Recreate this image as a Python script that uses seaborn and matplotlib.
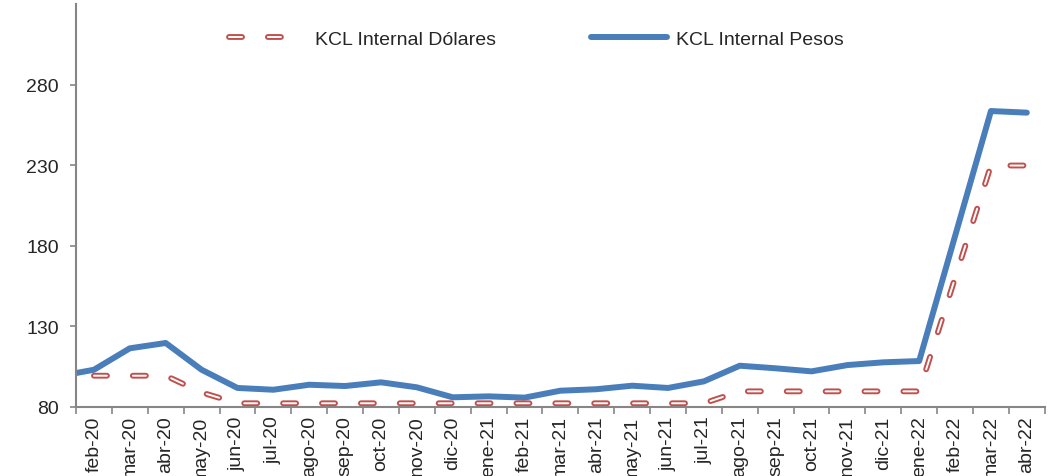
import matplotlib
matplotlib.use("Agg")
import matplotlib.pyplot as plt
import matplotlib.patheffects as pe
from matplotlib.lines import Line2D
import numpy as np
import pandas as pd
import seaborn as sns

# monthly series (ene-20 only feeds the clipped start of the pesos line)
meses = ["ene-20", "feb-20", "mar-20", "abr-20", "may-20", "jun-20", "jul-20",
         "ago-20", "sep-20", "oct-20", "nov-20", "dic-20", "ene-21", "feb-21",
         "mar-21", "abr-21", "may-21", "jun-21", "jul-21", "ago-21", "sep-21",
         "oct-21", "nov-21", "dic-21", "ene-22", "feb-22", "mar-22", "abr-22"]
pesos = [99.0, 103.1, 116.4, 119.7, 103.1, 91.8, 90.7, 93.8, 93.0, 95.3, 92.2,
         86.0, 86.6, 85.8, 90.1, 91.0, 93.2, 91.8, 95.9, 105.6, 104.0, 102.1,
         106.0, 107.7, 108.5, 186.0, 263.6, 262.6]
dolares = [np.nan, 99.4, 99.4, 99.4, 89.0, 82.3, 82.3, 82.3, 82.3, 82.3, 82.3,
           82.3, 82.3, 82.3, 82.3, 82.3, 82.3, 82.3, 82.3, 89.7, 89.7, 89.7,
           89.7, 89.7, 89.7, 160.0, 229.8, 229.8]
y_ticks = [80, 130, 180, 230, 280]

df = pd.DataFrame({"pos": np.arange(len(meses)), "mes": meses,
                   "pesos": pesos, "dolares": dolares})

sns.set_style("white")
plt.rcParams["font.family"] = ["Liberation Sans", "DejaVu Sans"]

azul = "#4A7EBB"
rojo = "#C0504D"
gris = "#868686"
fs = 14
guion = (0, (6.7, 13.3))

fig = plt.figure(figsize=(10.5, 4.77), dpi=100)
ax = fig.add_axes([0.0724, 0.1447, 0.9226, 0.8448])

sns.lineplot(data=df, x="pos", y="pesos", ax=ax, color=azul, linewidth=4.3,
             solid_capstyle="round", solid_joinstyle="round")
sns.lineplot(data=df, x="pos", y="dolares", ax=ax, color="white", linewidth=1.4,
             dashes=False)
red = ax.lines[-1]
red.set_linestyle(guion)
red.set_dash_capstyle("round")
borde = [pe.Stroke(linewidth=4.2, foreground=rojo, capstyle="round"), pe.Normal()]
red.set_path_effects(borde)

ax.set_xlim(0.5, len(meses) - 0.5)
ax.set_ylim(80, 330)
ax.set_yticks(y_ticks)
ax.set_yticklabels([str(v) for v in y_ticks], fontsize=fs)

# category axis: ticks between months, labels centred on months
ax.set_xticks(np.arange(0.5, len(meses), 1.0))
ax.set_xticklabels([])
ax.set_xticks(np.arange(1, len(meses)), minor=True)
ax.set_xticklabels(meses[1:], minor=True, rotation=90, fontsize=fs, va="top")
ax.tick_params(axis="x", which="major", direction="out", length=5, width=1.2,
               color=gris, bottom=True)
ax.tick_params(axis="x", which="minor", length=0, pad=6)
ax.tick_params(axis="y", direction="out", length=4.3, width=1.2, color=gris,
               left=True, pad=8)

ax.set_xlabel("")
ax.set_ylabel("")
for s in ["top", "right"]:
    ax.spines[s].set_visible(False)
for s in ["left", "bottom"]:
    ax.spines[s].set_color(gris)
    ax.spines[s].set_linewidth(1.5)

h_dol = Line2D([], [], color="white", linewidth=1.4, linestyle=guion,
               dash_capstyle="round", path_effects=borde)
h_pes = Line2D([], [], color=azul, linewidth=4.3, solid_capstyle="round")
fig.legend([h_dol, h_pes], ["KCL Internal Dólares", "KCL Internal Pesos"],
           loc="center", bbox_to_anchor=(0.511, 0.916), ncol=2, frameon=False,
           fontsize=fs, handlelength=3.9, columnspacing=4.9, handletextpad=0.5)

fig.savefig("out.png", dpi=100)
